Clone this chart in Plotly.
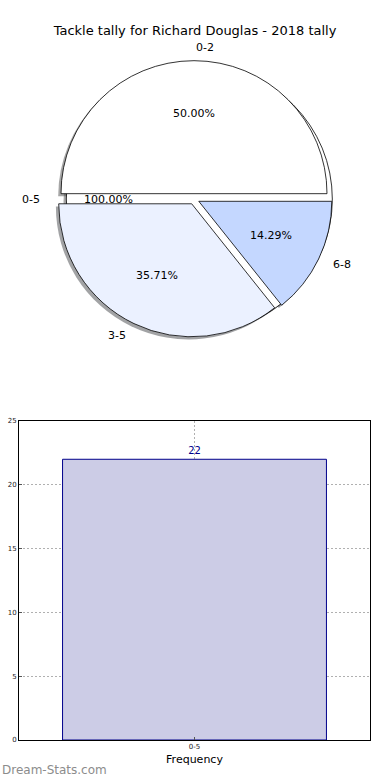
import math
import plotly.graph_objects as go

# ---------------- data ----------------
title_text = "Tackle tally for Richard Douglas - 2018 tally"
pie_labels = ["0-2", "3-5", "6-8"]
pie_values = [7, 5, 2]
pie_colors = ["#FFFFFF", "#EBF1FF", "#C4D7FF"]
outer_labels = ["0-5"]
outer_values = [22]
outer_colors = ["#FFFFFF"]
bar_categories = ["0-5"]
bar_values = [22]
y_ticks = [0, 5, 10, 15, 20, 25]
x_title = "Frequency"
y_title = "Total Tackles"
watermark = "Dream-Stats.com"

# ---------------- layout geometry (pixels) ----------------
W, H = 390, 780
CX, CY = 194, 199
R = 133
PULL = 0.04
SIZE = 2 * R * (1 + PULL)
SX, SY = -2.8, 2.6
FONT = "DejaVu Sans"


def dom(cx, cy):
    return dict(x=[(cx - SIZE / 2) / W, (cx + SIZE / 2) / W],
                y=[1 - (cy + SIZE / 2) / H, 1 - (cy - SIZE / 2) / H])


def shadow(c):
    c = c.lstrip("#")
    r, g, b = (int(c[i:i + 2], 16) for i in (0, 2, 4))
    return "rgba(%d,%d,%d,0.5)" % (0.3 * r, 0.3 * g, 0.3 * b)


common = dict(rotation=-90, direction="counterclockwise", sort=False,
              textinfo="none", hoverinfo="skip", showlegend=False)

fig = go.Figure()
fig.add_trace(go.Pie(labels=outer_labels, values=outer_values,
                     marker=dict(colors=[shadow(c) for c in outer_colors], line=dict(width=0)),
                     pull=[PULL] * len(outer_values), domain=dom(CX + SX, CY + SY), **common))
fig.add_trace(go.Pie(labels=pie_labels, values=pie_values,
                     marker=dict(colors=[shadow(c) for c in pie_colors], line=dict(width=0)),
                     pull=[PULL] * len(pie_values), domain=dom(CX + SX, CY + SY), **common))
fig.add_trace(go.Pie(labels=outer_labels, values=outer_values,
                     marker=dict(colors=outer_colors, line=dict(color="black", width=0.8)),
                     pull=[PULL] * len(outer_values), domain=dom(CX, CY), **common))
fig.add_trace(go.Pie(labels=pie_labels, values=pie_values,
                     marker=dict(colors=pie_colors, line=dict(color="black", width=0.8)),
                     pull=[PULL] * len(pie_values), domain=dom(CX, CY), **common))

# pie text annotations computed from values
annotations = []


def pie_texts(labels, values):
    total = float(sum(values))
    cum = 0.0
    for lab, v in zip(labels, values):
        f = v / total
        th = math.radians(360 * (cum + f / 2))
        cum += f
        c, s = math.cos(th), math.sin(th)
        d = PULL * R
        px = CX + c * (0.6 * R + d)
        py = CY - s * (0.6 * R + d)
        annotations.append(dict(x=px / W, y=1 - py / H, xref="paper", yref="paper",
                                text="%.2f%%" % (100 * f), showarrow=False,
                                xanchor="center", yanchor="middle",
                                font=dict(family=FONT, size=11, color="black")))
        lx = CX + c * (1.1 * R + d)
        ly = CY - s * (1.1 * R + d)
        annotations.append(dict(x=lx / W, y=1 - ly / H, xref="paper", yref="paper",
                                text=lab, showarrow=False,
                                xanchor="left" if c > 0 else "right", yanchor="middle",
                                font=dict(family=FONT, size=11, color="black")))


pie_texts(outer_labels, outer_values)
pie_texts(pie_labels, pie_values)

# ---------------- bar chart ----------------
fig.add_trace(go.Bar(x=bar_categories, y=bar_values, width=1,
                     marker=dict(color="#CCCCE6", line=dict(color="#00008B", width=1)),
                     text=[str(v) for v in bar_values], textposition="outside",
                     textfont=dict(family=FONT, size=10, color="#00008B"),
                     cliponaxis=False, hoverinfo="skip", showlegend=False))

annotations.append(dict(x=-6 / W, y=1 - 580 / H, xref="paper", yref="paper",
                        text=y_title, textangle=-90, showarrow=False,
                        xanchor="center", yanchor="middle",
                        font=dict(family=FONT, size=10, color="black")))
annotations.append(dict(x=0, y=1 - 770 / H, xref="paper", yref="paper",
                        text=watermark, showarrow=False, xanchor="left", yanchor="middle",
                        font=dict(family=FONT, size=12, color="#8C8C8C")))

axis_common = dict(showline=True, linecolor="black", linewidth=1, mirror=True,
                   showgrid=True, gridcolor="#B0B0B0", griddash="2px,2px", gridwidth=1,
                   ticks="inside", ticklen=3, tickcolor="#555", zeroline=False,
                   tickfont=dict(family=FONT, size=7, color="#222"))

fig.update_layout(
    width=W, height=H, margin=dict(l=0, r=0, t=0, b=0),
    paper_bgcolor="white", plot_bgcolor="white",
    title=dict(text=title_text, x=0.5, xref="paper", y=1 - 30 / H, yanchor="middle",
               xanchor="center", font=dict(family=FONT, size=13, color="black")),
    xaxis=dict(domain=[19 / W, 370 / W], type="category", range=[-0.665, 0.665],
               automargin=False,
               title=dict(text=x_title, standoff=4, font=dict(family=FONT, size=11, color="black")),
               **axis_common),
    yaxis=dict(domain=[1 - 740 / H, 1 - 421 / H], range=[0, 25], tickvals=y_ticks,
               automargin=False, **axis_common),
    annotations=annotations,
)

fig.write_html("out.html", config={"displayModeBar": False},
               post_script="document.body.style.margin='0';document.body.style.overflow='hidden';")
